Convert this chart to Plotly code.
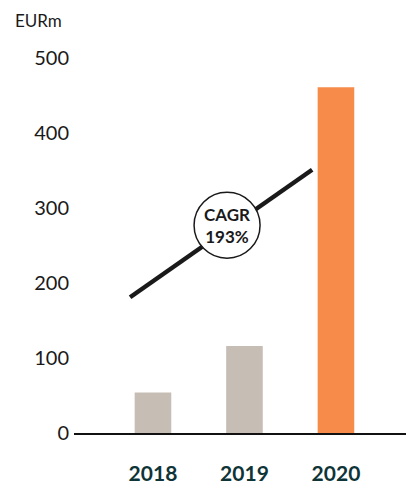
import plotly.graph_objects as go

years = ["2018", "2019", "2020"]
values = [54, 116, 461]
bar_colors = ["#c6beb5", "#c6beb5", "#f78b4a"]
y_ticks = [0, 100, 200, 300, 400, 500]
cagr_label = "CAGR<br>193%"
cagr_line_x = [-0.25, 1.74]
cagr_line_y = [181, 351]
cagr_circle_x = 0.81
cagr_circle_y = 277
unit_label = "EURm"

xpos = list(range(len(years)))

fig = go.Figure()
fig.add_trace(go.Bar(
    x=xpos, y=values, width=0.40,
    marker=dict(color=bar_colors, line=dict(width=0)),
    hoverinfo="skip",
))
fig.add_trace(go.Scatter(
    x=cagr_line_x, y=cagr_line_y, mode="lines",
    line=dict(color="#1a1a1a", width=4.5),
    hoverinfo="skip",
))

fig.add_shape(
    type="circle", xref="x", yref="y",
    xsizemode="pixel", ysizemode="pixel",
    xanchor=cagr_circle_x, yanchor=cagr_circle_y,
    x0=-33, x1=33, y0=-33, y1=33,
    fillcolor="white", line=dict(color="#1a1a1a", width=1.5),
    layer="above",
)
fig.add_annotation(
    x=cagr_circle_x, y=cagr_circle_y, xref="x", yref="y",
    text=cagr_label, showarrow=False,
    font=dict(family="Lato", size=17, color="#1a1a1a", weight="bold"),
    align="center",
)
fig.add_annotation(
    x=-0.179, y=1.101, xref="paper", yref="paper",
    xanchor="left", yanchor="middle",
    text=unit_label, showarrow=False,
    font=dict(family="Lato", size=17, color="#1a1a1a"),
)

# page body has an 8px margin, so the figure is sized/offset to compensate
fig.update_layout(
    width=406, height=473,
    margin=dict(l=66, r=0, t=50, b=48),
    paper_bgcolor="white", plot_bgcolor="white",
    showlegend=False,
    xaxis=dict(
        range=[-0.863, 2.853],
        tickvals=xpos, ticktext=years,
        showgrid=False, zeroline=False,
        showline=True, linecolor="#111111", linewidth=1.5,
        ticks="", ticklabelstandoff=21, automargin=False,
        tickfont=dict(family="Lato", size=21, color="#0f3438", weight="bold"),
        fixedrange=True,
    ),
    yaxis=dict(
        range=[0, 500],
        tickvals=y_ticks,
        showgrid=False, zeroline=False, showline=False,
        ticks="", ticklabelstandoff=4, automargin=False,
        tickfont=dict(family="Lato", size=20, color="#1a1a1a"),
        fixedrange=True,
    ),
)

fig.write_html("out.html")
